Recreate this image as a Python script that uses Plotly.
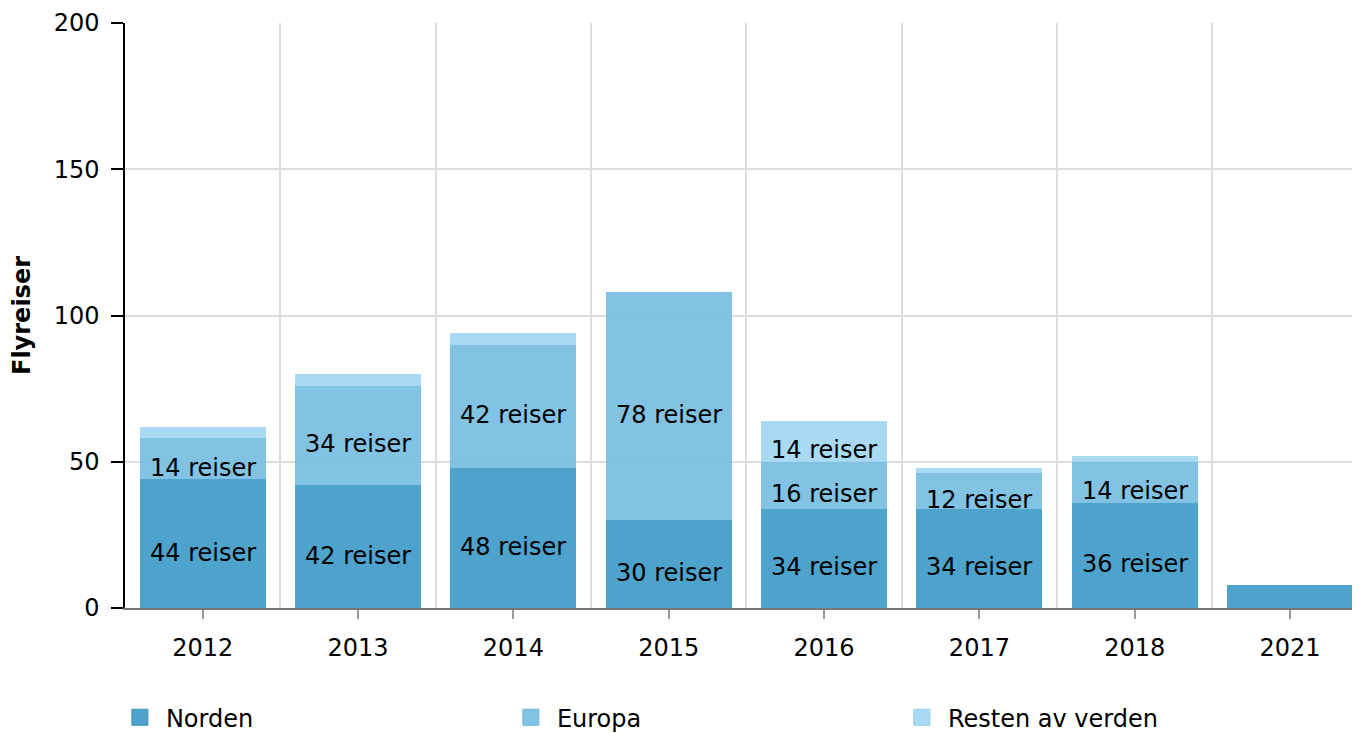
import plotly.graph_objects as go

categories = ["2012", "2013", "2014", "2015", "2016", "2017", "2018", "2021"]
norden = [44, 42, 48, 30, 34, 34, 36, 8]
europa = [14, 34, 42, 78, 16, 12, 14, 0]
resten = [4, 4, 4, 0, 14, 2, 2, 0]
y_ticks = [0, 50, 100, 150, 200]

FONT = "DejaVu Sans, Verdana, sans-serif"
FS = 24

positions = list(range(len(categories)))

series = [
    ("Norden", norden, "rgba(59,153,198,0.9)", "#3f93bd"),
    ("Europa", europa, "rgba(116,188,224,0.9)", "#6db4d8"),
    ("Resten av verden", resten, "rgba(158,215,242,0.9)", "#94cdea"),
]

fig = go.Figure()
base = [0] * len(categories)
annotations = []
for name, vals, col, edge in series:
    fig.add_trace(go.Bar(
        x=positions, y=vals, name=name,
        width=0.81,
        marker=dict(color=col, line=dict(width=0)),
        showlegend=False,
        hoverinfo="x+y+name",
    ))
    # legend swatch (legend-only entry)
    fig.add_trace(go.Scatter(
        x=[None], y=[None], mode="markers", name=name,
        marker=dict(symbol="square", size=16, color=col, line=dict(width=1, color=edge)),
        showlegend=True,
    ))
    for p, v, b in zip(positions, vals, base):
        if v >= 10:
            annotations.append(dict(
                x=p, y=b + v / 2, xref="x", yref="y",
                text=f"{v} reiser", showarrow=False, yshift=-9,
                font=dict(family=FONT, size=FS, color="#000000"),
            ))
    base = [b + v for b, v in zip(base, vals)]

# page has an 8px body margin; compensate so the plot area sits at x 125-1360, y 23-608
fig.update_layout(
    barmode="stack",
    width=1352, height=725,
    margin=dict(l=117, r=0, t=15, b=125, autoexpand=False),
    paper_bgcolor="white", plot_bgcolor="white",
    font=dict(family=FONT, size=FS, color="#000000"),
    annotations=annotations,
    showlegend=True,
    legend=dict(
        orientation="h", x=-0.009, xanchor="left", y=-0.149, yanchor="top",
        entrywidth=334, entrywidthmode="pixels",
        traceorder="normal",
        font=dict(family=FONT, size=FS, color="#000000"),
        itemwidth=42, tracegroupgap=0,
    ),
)

fig.update_xaxes(
    range=[-0.5, 7.45],
    tickmode="array", tickvals=positions, ticktext=categories,
    ticks="outside", ticklen=9, tickcolor="#999999", tickwidth=1.5,
    ticklabelstandoff=8,
    showgrid=False,
    minor=dict(tick0=0.5, dtick=1, showgrid=True, gridcolor="#dddddd", gridwidth=1.5, ticks=""),
    showline=True, linecolor="#777777", linewidth=1.5,
    zeroline=False,
    tickfont=dict(family=FONT, size=FS),
    fixedrange=True,
)
fig.update_yaxes(
    range=[0, 200],
    tickmode="array", tickvals=y_ticks,
    ticks="outside", ticklen=12, tickcolor="#000000", tickwidth=1.5,
    ticklabelstandoff=7,
    showgrid=True, gridcolor="#dddddd", gridwidth=1.5,
    showline=True, linecolor="#000000", linewidth=1.5,
    zeroline=False,
    tickfont=dict(family=FONT, size=FS),
    title=dict(text="<b>Flyreiser</b>", font=dict(family=FONT, size=FS), standoff=27),
    automargin=False,
)

fig.write_html("out.html")
